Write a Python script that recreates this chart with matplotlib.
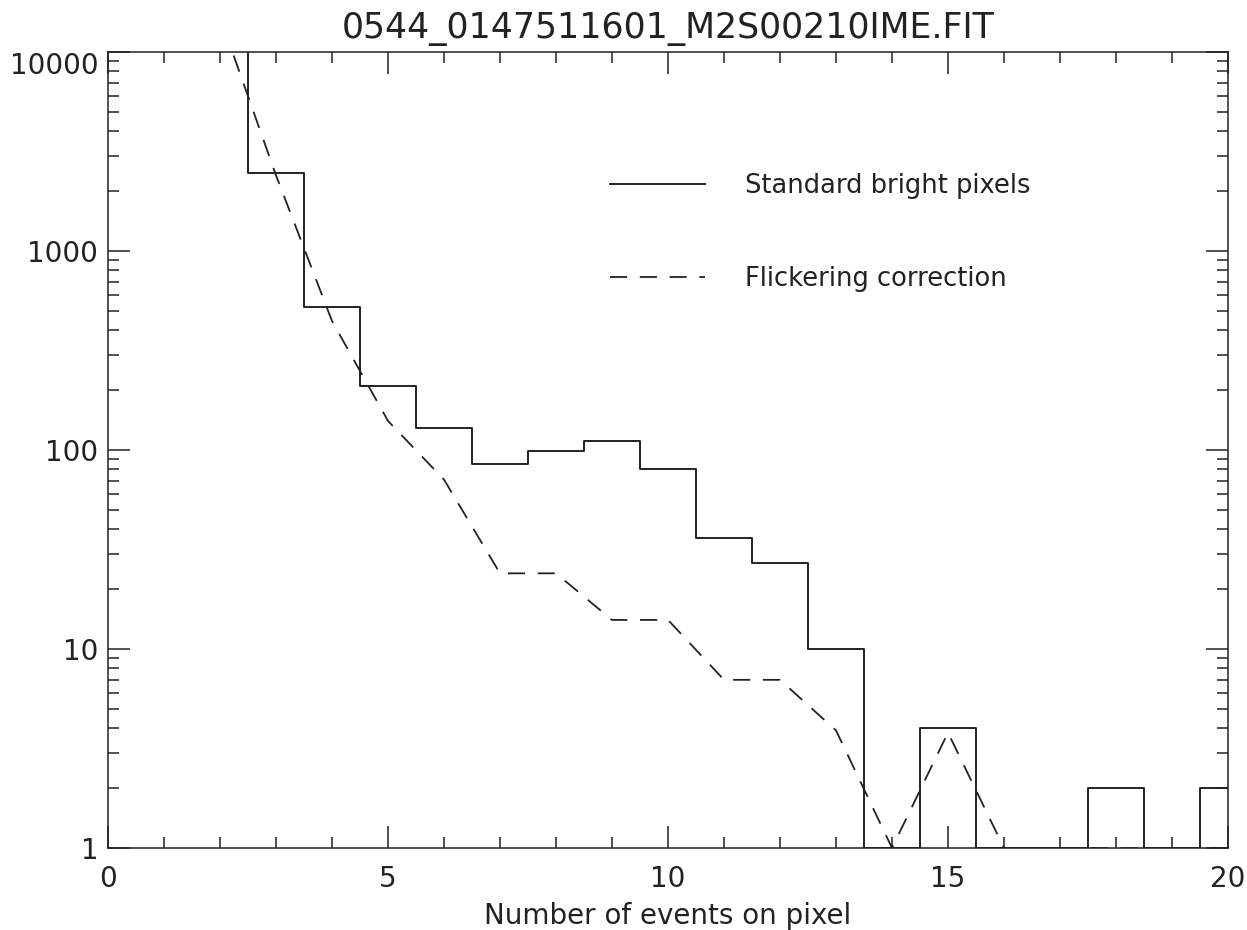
import numpy as np
import matplotlib
matplotlib.use("Agg")
import matplotlib.pyplot as plt
from matplotlib.ticker import FixedLocator, NullFormatter

# データ（ピクセル上の事象数ごとのヒストグラム）
events = np.arange(0, 21)
standard = [3.0e6, 2.0e5, 2.5e4, 2460, 521, 210, 129, 85, 99, 111, 80,
            36, 27, 10, 1, 4, 1, 1, 2, 1, 2]
flicker = [2.0e6, 1.5e5, 1.5e4, 2400, 445, 140, 71, 24, 24, 14, 14,
           7, 7, 3.9, 1, 3.8, 1, 1, 1, 1, 1]

title = "0544_0147511601_M2S00210IME.FIT"
xlabel = "Number of events on pixel"
label_std = "Standard bright pixels"
label_flk = "Flickering correction"

plt.rcParams["font.family"] = ["DejaVu Sans"]
ink = "#222222"

fig = plt.figure(figsize=(12.47, 9.30), dpi=100)
ax = fig.add_axes([108 / 1247, 1 - 848 / 930, 1120 / 1247, 796 / 930])

ax.step(events, standard, where="mid", color=ink, lw=1.4, label=label_std)
ax.plot(events, flicker, color=ink, lw=1.3, dashes=(9.5, 7), label=label_flk)

ax.set_yscale("log")
ax.set_xlim(0, 20)
ax.set_ylim(1, 10000)

ax.xaxis.set_major_locator(FixedLocator([0, 5, 10, 15, 20]))
ax.xaxis.set_minor_locator(FixedLocator(np.arange(0, 21, 1)))
ax.set_xticklabels(["0", "5", "10", "15", "20"])
ax.yaxis.set_major_locator(FixedLocator([1, 10, 100, 1000, 10000]))
ax.set_yticklabels(["1", "10", "100", "1000", "10000"])
minor_y = [m * 10 ** d for d in range(4) for m in range(2, 10)]
ax.yaxis.set_minor_locator(FixedLocator(minor_y))
ax.yaxis.set_minor_formatter(NullFormatter())

ax.tick_params(which="both", direction="in", top=True, right=True,
               color=ink, width=1.1, labelsize=20, labelcolor=ink)
ax.tick_params(which="major", length=16)
ax.tick_params(which="minor", length=8)
ax.tick_params(axis="y", pad=7)
ax.tick_params(axis="x", pad=12)
for s in ax.spines.values():
    s.set_color(ink)
    s.set_linewidth(1.1)

ax.set_title(title, fontsize=25, color=ink, pad=10)
ax.set_xlabel(xlabel, fontsize=20, color=ink, labelpad=7)

ax.legend(loc="upper left", bbox_to_anchor=(0.448, 0.848), frameon=False,
          fontsize=18.5, handlelength=3.7, handletextpad=1.55, labelspacing=2.6,
          borderpad=0, borderaxespad=0, labelcolor=ink)

fig.canvas.draw()
ax.yaxis.get_major_ticks()[-1].label1.set_verticalalignment("top")

fig.savefig("out.png", dpi=100)
